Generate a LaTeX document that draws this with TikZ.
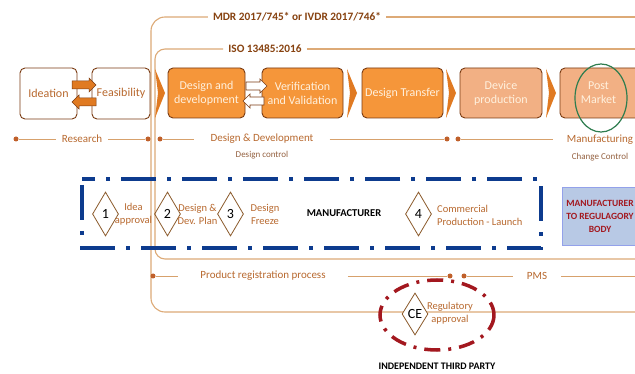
\documentclass[tikz,border=0pt]{standalone}
\usepackage{fontspec}
\setmainfont{Carlito}
\usetikzlibrary{shapes.geometric}
\definecolor{obrown}{HTML}{7A3B12}
\definecolor{orng}{HTML}{F5963A}
\definecolor{orngdk}{HTML}{E07A22}
\definecolor{lorng}{HTML}{F2B084}
\definecolor{ptext}{HTML}{B8692F}
\definecolor{frm}{HTML}{DDAA77}
\definecolor{dotc}{HTML}{C0602A}
\definecolor{cream}{HTML}{FFF1DE}
\definecolor{dblue}{HTML}{0D3B8E}
\definecolor{lblue}{HTML}{B8C9E5}
\definecolor{dred}{HTML}{A3181F}
\definecolor{gcirc}{HTML}{2E7D4F}
\definecolor{dmd}{HTML}{8B5A2B}
\tikzset{
  pbox/.style={draw=obrown, line width=0.9pt, rounded corners=5pt, align=center, inner sep=1pt},
  wbox/.style={pbox, fill=white, text=ptext, font=\fontsize{12}{14}\selectfont},
  obox/.style={pbox, fill=orng, text=cream, font=\fontsize{12}{14}\selectfont},
  lbox/.style={pbox, fill=lorng, text=cream, font=\fontsize{12}{14}\selectfont},
  chev/.style={fill=orngdk},
  frame/.style={draw=frm, line width=1.1pt},
  phase/.style={text=ptext, font=\fontsize{11}{13}\selectfont, inner sep=6pt},
  sub/.style={text=obrown!80, font=\fontsize{9}{10}\selectfont, inner sep=1pt},
  pline/.style={draw=frm!80!brown, line width=0.8pt},
  pdot/.style={circle, fill=dotc, inner sep=0pt, minimum size=5pt},
  ms/.style={diamond, draw=dmd, line width=0.8pt, minimum width=26pt, minimum height=44pt, inner sep=0pt, font=\fontsize{14}{14}\selectfont, aspect=0.6},
  mslab/.style={text=ptext, font=\fontsize{10.5}{13}\selectfont, align=center, inner sep=1pt},
  blk/.style={font=\bfseries\fontsize{10.5}{12}\selectfont, text=black, inner sep=1pt},
  frlab/.style={text=obrown!90!orange, font=\bfseries\fontsize{11.3}{13}\selectfont, inner sep=5pt},
}
\begin{document}
\begin{tikzpicture}[x=1pt,y=-1pt]
\useasboundingbox (0,0) rectangle (635,374);
\fill[white] (0,0) rectangle (635,374);

% frames
\node[frlab] (mdr) at (297,17) {MDR 2017/745* or IVDR 2017/746*};
\node[frlab] (iso) at (265,49) {ISO 13485:2016};
\draw[frame, rounded corners=14pt] (mdr.west) -- (151,17) -- (151,312) -- (645,312);
\draw[frame] (mdr.east) -- (645,17);
\draw[frame, rounded corners=10pt] (iso.west) -- (155,49) -- (155,259) -- (645,259);
\draw[frame] (iso.east) -- (645,49);

% process boxes
\node[wbox, minimum width=57pt, minimum height=51pt] (idea) at (48.5,93.5) {Ideation};
\node[wbox, minimum width=58pt, minimum height=51pt] (feas) at (121,93.5) {Feasibility};
\node[obox, minimum width=77pt, minimum height=50pt] (dd) at (206.5,93) {Design and\\development};
\node[obox, minimum width=81pt, minimum height=50pt] (vv) at (302.5,93) {Verification\\and Validation};
\node[obox, minimum width=81pt, minimum height=50pt] (dt) at (402.5,93) {Design Transfer};
\node[lbox, minimum width=82pt, minimum height=50pt] (dp) at (501,93) {Device\\production};
\node[lbox, minimum width=85pt, minimum height=50pt, text width=75pt] (pm) at (602.5,93) {\hspace*{-8pt}Post\\\hspace*{-8pt}Market};
\draw[gcirc, line width=1.2pt] (601,98) ellipse [x radius=26, y radius=34];

% chevrons
\fill[chev] (155,69) -- (165,93) -- (155,118) -- (158,93) -- cycle;
\fill[chev] (347,69) -- (357,93) -- (347,118) -- (350,93) -- cycle;
\fill[chev] (446,69) -- (456,93) -- (446,118) -- (449,93) -- cycle;
\fill[chev] (546,69) -- (556,93) -- (546,118) -- (549,93) -- cycle;

% block arrows Ideation <-> Feasibility
\draw[fill=orngdk, draw=obrown, line width=0.5pt] (72,81) -- (89,81) -- (89,78) -- (96,85) -- (89,92) -- (89,89) -- (72,89) -- cycle;
\draw[fill=orngdk, draw=obrown, line width=0.5pt] (96,98) -- (79,98) -- (79,95) -- (72,102) -- (79,109) -- (79,106) -- (96,106) -- cycle;
% block arrows DD <-> VV
\draw[fill=white, draw=obrown, line width=0.7pt] (246,82) -- (260,82) -- (260,79) -- (267,86) -- (260,93) -- (260,90) -- (246,90) -- cycle;
\draw[fill=white, draw=obrown, line width=0.7pt] (264,97) -- (250,97) -- (250,94) -- (243,101) -- (250,108) -- (250,105) -- (264,105) -- cycle;

% phase lines
\node[phase] (res) at (82,139) {Research};
\node[pdot] (r1) at (16,139) {};
\node[pdot] (r2) at (148,139) {};
\draw[pline] (r1) -- (res.west);
\draw[pline] (res.east) -- (r2);

\node[phase, inner sep=16pt] (ddl) at (262,139) {Design \& Development};
\node[sub] (dc) at (262,155) {Design control};
\node[pdot] (d1) at (160,139) {};
\node[pdot] (d2) at (447,139) {};
\draw[pline] (d1) -- (ddl.west);
\draw[pline] (ddl.east) -- (d2);

\node[phase, inner sep=14pt] (mfg) at (600,140) {Manufacturing};
\node[sub] (cc) at (600,157) {Change Control};
\node[pdot] (m1) at (458,139) {};
\draw[pline] (m1) -- (mfg.west |- m1);

% blue dash-dot box
\draw[dblue, line width=4pt, dash pattern=on 35pt off 11pt on 4pt off 11pt, dash phase=-6pt] (82,179) rectangle (541,248);

% milestones
\node[ms] (m1d) at (105.5,214) {1};
\node[mslab] (m1l) at (133.5,214) {Idea\\approval};
\node[ms] (m2d) at (167.5,214) {2};
\node[mslab] (m2l) at (197.5,214) {Design \&\\Dev. Plan};
\node[ms] (m3d) at (230.5,214) {3};
\node[mslab] (m3l) at (265,214) {Design\\Freeze};
\node[blk] (manu) at (344,213) {MANUFACTURER};
\node[ms] (m4d) at (418.5,214) {4};
\node[mslab, anchor=west, align=left] (m4l) at (436,215) {Commercial\\Production - Launch};

% regulatory body box
\node[draw=lblue!80!blue, fill=lblue, minimum width=75pt, minimum height=58pt, align=center, text=dred, font=\bfseries\fontsize{9.5}{13}\selectfont, inner sep=1pt] (reg) at (600,216) {MANUFACTURER\\TO REGULAGORY\\BODY};

% product registration line
\node[phase, inner sep=22pt] (prp) at (263,276) {Product registration process};
\node[pdot] (p1) at (153,276) {};
\node[pdot] (p2) at (450,276) {};
\draw[pline] (p1) -- (prp.west);
\draw[pline] (prp.east) -- (p2);
\node[phase, inner sep=14pt] (pms) at (537,276) {PMS};
\node[pdot] (p3) at (464,276) {};
\draw[pline] (p3) -- (pms.west);
\draw[pline] (pms.east) -- (645,276);

% CE
\draw[dred, line width=3.5pt, dash pattern=on 16pt off 8pt on 3pt off 8pt] (437,315) ellipse [x radius=57, y radius=35];
\node[ms, fill=white, minimum height=42pt] (ce) at (415,314) {CE};
\node[mslab] (cel) at (450,313) {Regulatory\\approval};
\node[blk, font=\bfseries\fontsize{10}{12}\selectfont] (itp) at (437,366) {INDEPENDENT THIRD PARTY};
\end{tikzpicture}
\end{document}
